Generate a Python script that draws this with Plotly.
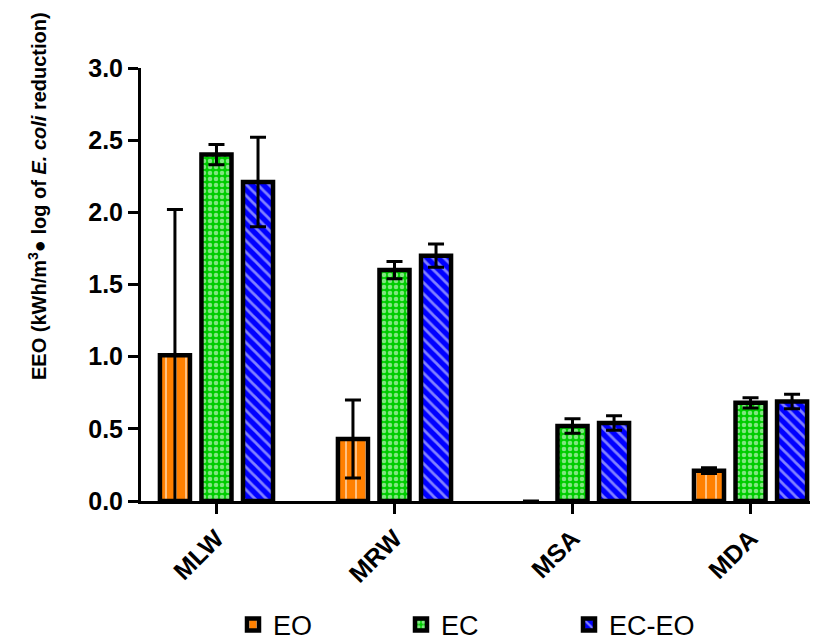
import plotly.graph_objects as go

categories = ["MLW", "MRW", "MSA", "MDA"]
series_names = ["EO", "EC", "EC-EO"]
eo_values = [1.01, 0.43, 0.0, 0.21]
eo_errors = [1.01, 0.27, 0.0, 0.02]
ec_values = [2.40, 1.60, 0.52, 0.68]
ec_errors = [0.07, 0.06, 0.05, 0.035]
eceo_values = [2.21, 1.70, 0.54, 0.69]
eceo_errors = [0.31, 0.08, 0.05, 0.05]
y_ticks = [0.0, 0.5, 1.0, 1.5, 2.0, 2.5, 3.0]
y_tick_labels = ["0.0", "0.5", "1.0", "1.5", "2.0", "2.5", "3.0"]

# page body has an 8px margin, so the figure is placed at (8, 8)
OFF = 8
W, H = 818 - OFF, 644 - OFF
PX0, PX1, PY0, PY1 = 141, 818, 68, 501  # plot area in window pixels
ML, MR, MT, MB = PX0 - OFF, (OFF + W) - PX1, PY0 - OFF, (OFF + H) - PY1
PW, PH = PX1 - PX0, PY1 - PY0
FONT = "Arial, Liberation Sans, sans-serif"

styles = [
    dict(bg="#FF8000", shape="|", size=10, solidity=0.2),
    dict(bg="#00CC00", shape=".", size=6, solidity=0.45),
    dict(bg="#0000FF", shape="\\", size=8, solidity=0.35),
]
values = [eo_values, ec_values, eceo_values]
errors = [eo_errors, ec_errors, eceo_errors]

fig = go.Figure()
for name, vals, errs, st in zip(series_names, values, errors, styles):
    outline = [4.5 if v != 0 else 0 for v in vals]
    fig.add_trace(go.Bar(
        name=name,
        x=categories,
        y=vals,
        marker=dict(
            color=st["bg"],
            line=dict(color="black", width=outline),
            pattern=dict(shape=st["shape"], fgcolor="white", bgcolor=st["bg"],
                         size=st["size"], solidity=st["solidity"]),
        ),
        error_y=dict(type="data", array=errs, visible=True, color="black",
                     thickness=3, width=8),
    ))

fig.update_layout(
    width=W, height=H,
    margin=dict(l=ML, r=MR, t=MT, b=MB, autoexpand=False),
    paper_bgcolor="white", plot_bgcolor="white",
    barmode="group", bargap=0.30, bargroupgap=0.277,
    font=dict(family=FONT, color="black"),
    showlegend=True,
    legend=dict(orientation="h", x=(233 - PX0) / PW, xanchor="left",
                y=(PY1 - 625) / PH, yanchor="middle",
                font=dict(family=FONT, size=27, color="black"),
                entrywidth=123, entrywidthmode="pixels",
                bgcolor="rgba(0,0,0,0)"),
)
fig.update_xaxes(
    type="category", range=[-0.424, 3.379],
    showline=True, linecolor="black", linewidth=3,
    ticks="outside", ticklen=10, tickwidth=3, tickcolor="black",
    tickangle=-45, tickfont=dict(family=FONT, size=25, color="black", weight="bold"),
    showgrid=False, zeroline=False,
)
fig.update_yaxes(
    range=[0, 3], tickvals=y_ticks, ticktext=y_tick_labels,
    showline=True, linecolor="black", linewidth=3,
    ticks="outside", ticklen=10, tickwidth=3, tickcolor="black",
    tickfont=dict(family=FONT, size=25, color="black", weight="bold"),
    showgrid=False, zeroline=False,
)
fig.add_annotation(
    text="EEO (kWh/m<sup>3</sup>\u25cf log of <i>E. coli</i> reduction)",
    xref="paper", yref="paper",
    x=(37 - PX0) / PW, y=(PY1 - 196) / PH,
    xanchor="center", yanchor="middle", textangle=-90, showarrow=False,
    font=dict(family=FONT, size=20, color="black", weight="bold"),
)

fig.write_html("out.html")
